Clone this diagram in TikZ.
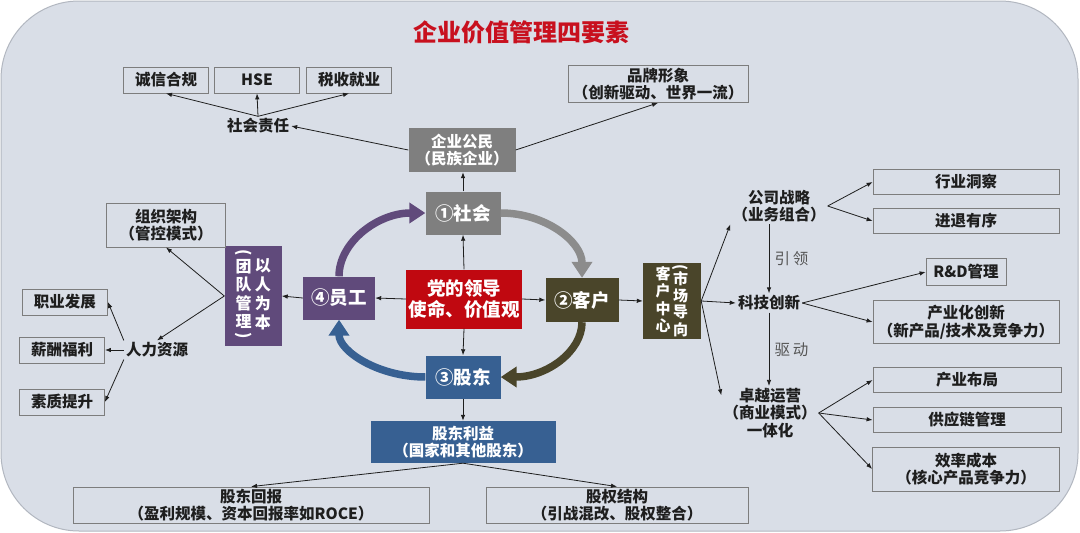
\documentclass[tikz,border=0pt]{standalone}
\usepackage{fontspec}
\usepackage{graphicx}
\setmainfont{Noto Sans CJK SC}
\usetikzlibrary{arrows.meta}

\definecolor{panelbg}{RGB}{217,222,231}
\definecolor{panelline}{RGB}{178,183,192}
\definecolor{boxline}{RGB}{125,125,125}
\definecolor{shgray}{RGB}{127,127,127}
\definecolor{dangred}{RGB}{192,8,16}
\definecolor{ygpurple}{RGB}{96,74,123}
\definecolor{khbrown}{RGB}{74,69,42}
\definecolor{gdblue}{RGB}{55,96,146}
\definecolor{titlered}{RGB}{200,16,30}
\definecolor{inkgray}{RGB}{30,30,30}

\newcommand{\bodyfont}{\fontsize{15.5}{17.5}\selectfont}
\newcommand{\bigfont}{\fontsize{18.5}{20.5}\selectfont}
\newcommand{\vcol}[1]{\begin{tabular}{@{}c@{}}#1\end{tabular}}
\newcommand{\vopen}{\rotatebox[origin=c]{-90}{(}}
\newcommand{\vclose}{\rotatebox[origin=c]{-90}{)}}

\tikzset{
  outline/.style={draw=boxline, line width=0.8pt, text=inkgray, font=\bodyfont\bfseries, align=center, inner sep=0pt},
  colorbox/.style={fill=#1, text=white, font=\bigfont\bfseries, align=center, inner sep=0pt},
  bare/.style={text=inkgray, font=\bodyfont\bfseries, align=center, inner sep=2pt},
  link/.style={-{Latex[length=6pt,width=4.5pt]}, line width=0.8pt, draw=inkgray},
  cyclearrow/.style={line width=7.5pt, draw=#1, -{Triangle[length=16pt,width=20pt]}},
}

\begin{document}
\begin{tikzpicture}[x=1pt,y=-1pt]
  \useasboundingbox (0,0) rectangle (1080,533);
  \fill[white] (0,0) rectangle (1080,533);
  \draw[fill=panelbg, draw=panelline, line width=1pt, rounded corners=78pt] (1,1) rectangle (1078,531);

  \node[text=titlered, font=\fontsize{24}{26}\selectfont\bfseries] (title) at (521,32) {企业价值管理四要素};

  % 社会
  \node[outline, minimum width=85pt, minimum height=26pt] (cxhg) at (166,80) {诚信合规};
  \node[outline, minimum width=85pt, minimum height=26pt] (hse) at (257,80) {HSE};
  \node[outline, minimum width=85pt, minimum height=26pt] (sssy) at (349,80) {税收就业};
  \node[bare] (shzr) at (258,126) {社会责任};
  \node[colorbox=shgray, font=\bodyfont\bfseries, minimum width=107pt, minimum height=44pt] (qygm) at (462,150) {企业公民\\（民族企业）};
  \node[outline, minimum width=180pt, minimum height=37pt] (ppxx) at (658,84) {品牌形象\\（创新驱动、世界一流）};

  % four elements
  \node[colorbox=shgray, minimum width=75pt, minimum height=43pt] (shehui) at (463,213) {①社会};
  \node[colorbox=dangred, minimum width=116pt, minimum height=59pt] (dang) at (464,299) {党的领导\\使命、价值观};
  \node[colorbox=ygpurple, minimum width=72pt, minimum height=43pt] (yuangong) at (339,298) {④员工};
  \node[colorbox=khbrown, minimum width=73pt, minimum height=44pt] (kehu) at (582,300) {②客户};
  \node[colorbox=gdblue, minimum width=75pt, minimum height=43pt] (gudong) at (463,377) {③股东};

  \draw[cyclearrow=ygpurple] (yuangong.north) .. controls (339,242) and (378,213) .. (shehui.west);
  \draw[cyclearrow=shgray!90] (shehui.east) .. controls (546,213) and (582,242) .. (kehu.north);
  \draw[cyclearrow=khbrown] (kehu.south) .. controls (582,352) and (546,377) .. (gudong.east);
  \draw[cyclearrow=gdblue] (gudong.west) .. controls (378,377) and (339,351) .. (yuangong.south);

  % 股东
  \node[colorbox=gdblue, font=\bodyfont\bfseries, minimum width=185pt, minimum height=42pt] (gdly) at (463,442) {股东利益\\（国家和其他股东）};
  \node[outline, minimum width=356pt, minimum height=36pt] (gdhb) at (251,505) {股东回报\\（盈利规模、资本回报率如ROCE）};
  \node[outline, minimum width=262pt, minimum height=36pt] (gqjg) at (617,505) {股权结构\\（引战混改、股权整合）};

  % 员工
  \node[colorbox=ygpurple, font=\fontsize{16}{17}\selectfont\bfseries, minimum width=57pt, minimum height=91pt] (yrwb) at (253,296)
    {\vcol{\vopen\\[-4pt]团\\队\\管\\理\\[-4pt]\vclose}\hspace{3pt}\vcol{以\\人\\为\\本}};
  \node[outline, minimum width=119pt, minimum height=44pt] (zzjg) at (166,225) {组织架构\\（管控模式）};
  \node[bare] (rlzy) at (157,350) {人力资源};
  \node[outline, minimum width=85pt, minimum height=26pt] (zyfz) at (65,302) {职业发展};
  \node[outline, minimum width=85pt, minimum height=26pt] (xcfl) at (62,350) {薪酬福利};
  \node[outline, minimum width=85pt, minimum height=26pt] (szts) at (62,402) {素质提升};

  % 客户
  \node[colorbox=khbrown, font=\fontsize{15}{14.5}\selectfont\bfseries, minimum width=58pt, minimum height=75pt] (scdx) at (672,301)
    {\vcol{客\\户\\中\\心}\hspace{2pt}\vcol{\vopen\\[-6pt]市\\场\\导\\向}};
  \node[bare] (gszl) at (779,206) {公司战略\\（业务组合）};
  \node[bare] (kjcx) at (769,303) {科技创新};
  \node[bare] (zyyy) at (770,413) {卓越运营\\（商业模式）\\一体化};
  \node[outline, minimum width=186pt, minimum height=25pt] (hydc) at (966,182) {行业洞察};
  \node[outline, minimum width=186pt, minimum height=25pt] (jtyx) at (966,221) {进退有序};
  \node[outline, minimum width=80pt, minimum height=27pt] (rd) at (966,272) {R\&D管理};
  \node[outline, minimum width=186pt, minimum height=43pt] (cyhcx) at (966,322) {产业化创新\\（新产品/技术及竞争力）};
  \node[outline, minimum width=188pt, minimum height=25pt] (cybj) at (967,380) {产业布局};
  \node[outline, minimum width=188pt, minimum height=25pt] (gylgl) at (967,420) {供应链管理};
  \node[outline, minimum width=187pt, minimum height=44pt] (xlcb) at (966,469) {效率成本\\（核心产品竞争力）};

  \draw[link] (shzr.north) -- (cxhg.south);
  \draw[link] (shzr.north) -- (hse.south);
  \draw[link] (shzr.north) -- (sssy.south);
  \draw[link] (qygm.west) -- (shzr.east);
  \draw[link] (qygm.east) -- (ppxx.south);
  \draw[link] (shehui.north) -- (shehui.north |- qygm.south);
  \draw[link] (dang.north) -- (shehui.south);
  \draw[link] (dang.west) -- (yuangong.east);
  \draw[link] (dang.east) -- (kehu.west);
  \draw[link] (dang.south) -- (gudong.north);
  \draw[link] (gudong.south) -- (gdly.north);
  \draw[link] (gdly.south) -- (gdhb.north);
  \draw[link] (gdly.south) -- (gqjg.north);
  \draw[link] (yuangong.west) -- (yrwb.east);
  \draw[link] (yrwb.west) -- (zzjg.south);
  \draw[link] (yrwb.west) -- (rlzy.north);
  \draw[link] (rlzy.north west) -- (zyfz.east);
  \draw[link] (rlzy.west) -- (xcfl.east);
  \draw[link] (rlzy.south west) -- (szts.east);
  \draw[link] (kehu.east) -- (scdx.west);
  \draw[link] (scdx.east) -- (gszl.south west);
  \draw[link] (scdx.east) -- (kjcx.west);
  \draw[link] (scdx.east) -- (zyyy.160);
  \draw[link] (gszl.east) -- (hydc.west);
  \draw[link] (gszl.east) -- (jtyx.west);
  \draw[link] (kjcx.north |- gszl.south) -- node[right=2pt, text=inkgray!75, font=\bodyfont] {引\,领} (kjcx.north);
  \draw[link] (kjcx.south) -- node[right=2pt, text=inkgray!75, font=\bodyfont] {驱\,动} (kjcx.south |- zyyy.north);
  \draw[link] (kjcx.east) -- (rd.west);
  \draw[link] (kjcx.east) -- (cyhcx.west);
  \draw[link] (zyyy.east) -- (cybj.west);
  \draw[link] (zyyy.east) -- (gylgl.west);
  \draw[link] (zyyy.east) -- (xlcb.west);
\end{tikzpicture}
\end{document}
